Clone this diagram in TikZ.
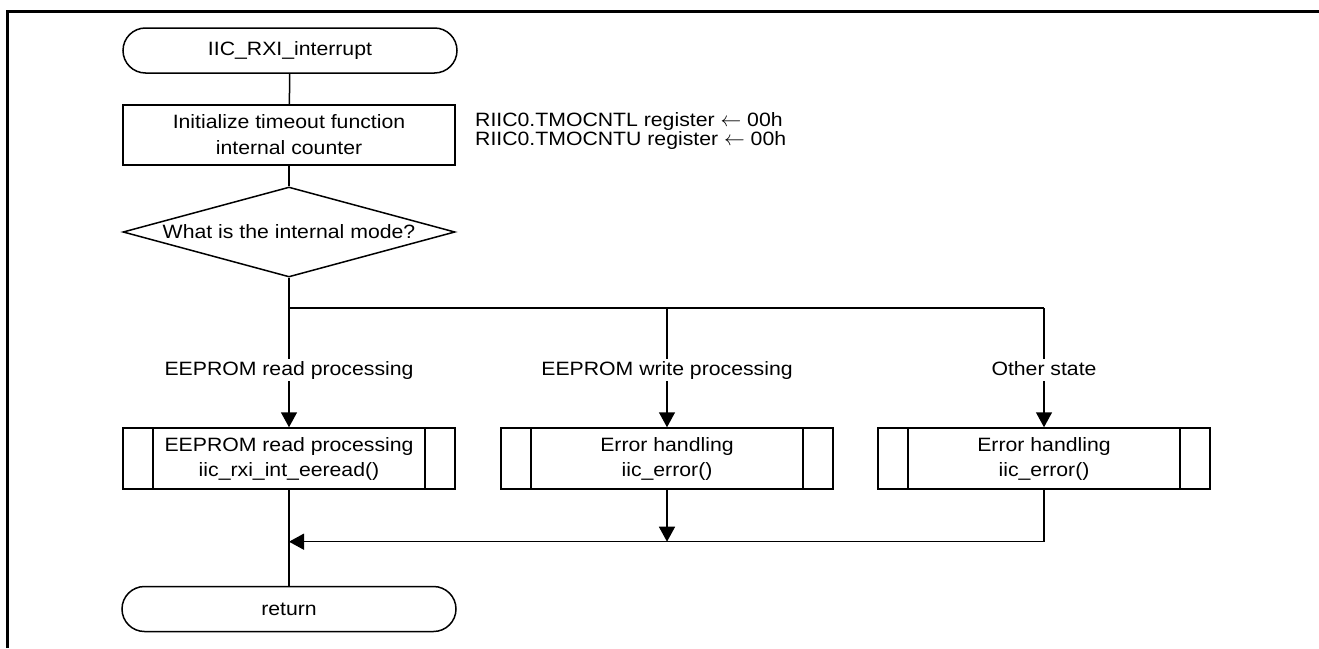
\documentclass[tikz,border=0pt]{standalone}
\usepackage{fontspec}
\setmainfont{Liberation Sans}[FakeStretch=1.1]
\usetikzlibrary{arrows.meta,shapes.geometric}
\newcommand\chartfont{\fontsize{19.3}{25}\selectfont}
\newcommand\notefont{\fontsize{19.3}{19}\selectfont\lineskiplimit=-100pt\relax}
\tikzset{
  base/.style={draw, line width=1.5pt, font=\chartfont, inner sep=2pt},
  term/.style={base, rounded corners=22.5pt, minimum width=334pt, minimum height=45pt},
  proc/.style={base, minimum width=332pt, minimum height=60pt, align=center},
  subproc/.style={proc, minimum height=61pt,
    path picture={
      \draw[line width=1.5pt]
        ([xshift=30pt]path picture bounding box.north west) --
        ([xshift=30pt]path picture bounding box.south west)
        ([xshift=-30pt]path picture bounding box.north east) --
        ([xshift=-30pt]path picture bounding box.south east);
    }},
  decision/.style={base, diamond, aspect=3.69, minimum width=332pt,
    minimum height=90pt, inner sep=0pt},
  caselabel/.style={fill=white, inner sep=2pt, font=\chartfont,
    text height=14pt, text depth=4pt},
  flow/.style={line width=1.5pt, -{Triangle[length=15pt,width=16pt]}},
  link/.style={line width=1.5pt}
}
\begin{document}
\begin{tikzpicture}[x=1pt, y=-1pt]
  \useasboundingbox (0,0) rectangle (1319,648);

  % page frame (left and top edges)
  \draw[line width=3pt] (7,648) -- (7,11) -- (1319,11);

  % main column
  \node[term] (start) at (290,50.5) {IIC\_RXI\_interrupt};
  \node[proc] (init) at (289,135) {Initialize timeout function\\[1pt]internal counter};
  \node[anchor=west, align=left, font=\notefont, inner sep=0pt] (regs) at (475,131)
    {RIIC0.TMOCNTL register $\leftarrow$ 00h\\RIIC0.TMOCNTU register $\leftarrow$ 00h};
  \node[decision] (mode) at (289,232) {What is the internal mode?};

  % branch points
  \coordinate (split) at (289,308);
  \coordinate (splitw) at (667,308);
  \coordinate (splito) at (1044,308);

  % case processing
  \node[subproc] (rd) at (289,458.5) {EEPROM read processing\\iic\_rxi\_int\_eeread()};
  \node[subproc] (wr) at (667,458.5) {Error handling\\iic\_error()};
  \node[subproc] (ot) at (1044,458.5) {Error handling\\iic\_error()};

  % join points
  \coordinate (joinr) at (289,541.7);
  \coordinate (joinw) at (667,541.7);
  \coordinate (joino) at (1044,541.7);

  \node[term] (ret) at (289,609) {return};

  % connectors
  \draw[link] (start) -- (init);
  \draw[link] (init) -- (mode);
  \draw[link] (mode) -- (split) -- (splito);
  \draw[flow] (split) -- (rd);
  \draw[flow] (splitw) -- (wr);
  \draw[flow] (splito) -- (ot);
  \draw[flow] (wr) -- (joinw);
  \draw[flow] (ot) -- (joino) -- (joinr);
  \draw[link] (rd) -- (ret);

  % case labels sitting on the branch lines
  \node[caselabel] (lrd) at (289,370) {EEPROM read processing};
  \node[caselabel] (lwr) at (667,370) {EEPROM write processing};
  \node[caselabel] (lot) at (1044,370) {Other state};
\end{tikzpicture}
\end{document}
